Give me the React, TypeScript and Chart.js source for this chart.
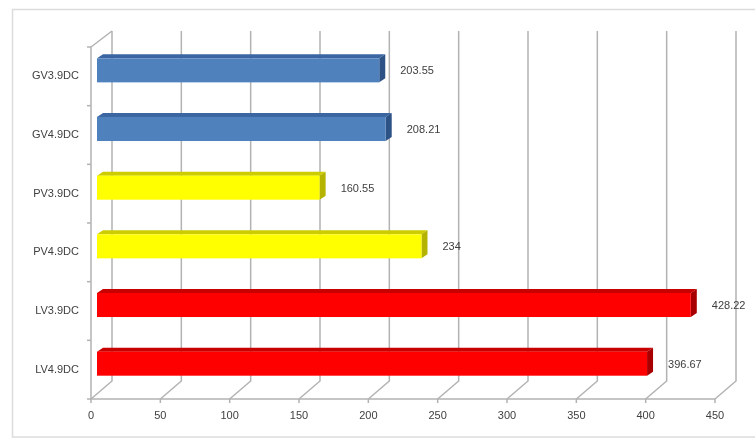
import React, { useEffect, useRef } from "react";
import { Chart, registerables } from "chart.js";

Chart.register(...registerables);

const categories = ["GV3.9DC", "GV4.9DC", "PV3.9DC", "PV4.9DC", "LV3.9DC", "LV4.9DC"];
const values = [203.55, 208.21, 160.55, 234, 428.22, 396.67];
const valueLabels = ["203.55", "208.21", "160.55", "234", "428.22", "396.67"];
const frontColors = ["#4f81bd", "#4f81bd", "#ffff00", "#ffff00", "#ff0000", "#ff0000"];
const topColors = ["#3b66a2", "#3b66a2", "#cccc00", "#cccc00", "#c80000", "#c80000"];
const sideColors = ["#2d5286", "#2d5286", "#b3b300", "#b3b300", "#a80000", "#a80000"];
const xMin = 0;
const xMax = 450;
const xStep = 50;

const FONT = "'Liberation Sans', Arial, sans-serif";

const threeD = {
  id: "threeD",
  beforeDatasetsDraw(chart: any) {
    const ctx = chart.ctx;
    const { left, right, top, bottom } = chart.chartArea;
    const xs = chart.scales.x;
    const dx = 21;
    const backTop = top - 16;
    const backBottom = bottom - 18;
    ctx.save();
    ctx.strokeStyle = "#dcdcdc";
    ctx.lineWidth = 1.5;
    ctx.strokeRect(12.5, 9.5, 780, 427.5);
    ctx.strokeStyle = "#b2b2b2";
    ctx.lineWidth = 1.5;
    for (let v = xMin; v <= xMax; v += xStep) {
      const fx = xs.getPixelForValue(v);
      ctx.beginPath();
      ctx.moveTo(fx, bottom);
      ctx.lineTo(fx + dx, backBottom);
      ctx.lineTo(fx + dx, backTop);
      ctx.stroke();
      ctx.beginPath();
      ctx.moveTo(fx, bottom);
      ctx.lineTo(fx, bottom + 4);
      ctx.stroke();
    }
    ctx.beginPath();
    ctx.moveTo(left + dx, backTop);
    ctx.lineTo(left, top);
    ctx.lineTo(left, bottom);
    ctx.lineTo(right, bottom);
    ctx.stroke();
    const n = categories.length;
    const step = (bottom - top) / n;
    for (let i = 0; i <= n; i++) {
      const y = top + i * step;
      ctx.beginPath();
      ctx.moveTo(left - 4, y);
      ctx.lineTo(left, y);
      ctx.stroke();
    }
    ctx.restore();
  },
  afterDatasetsDraw(chart: any) {
    const ctx = chart.ctx;
    const meta = chart.getDatasetMeta(0);
    const ox = 6;
    const oy = -6;
    const ddx = 6;
    const ddy = -4;
    ctx.save();
    meta.data.forEach((bar: any, i: number) => {
      const p = bar.getProps(["x", "y", "base", "height"], true);
      const x0 = p.base + ox;
      const x1 = p.x + ox;
      const yt = p.y + oy - p.height / 2;
      const yb = p.y + oy + p.height / 2;
      ctx.fillStyle = topColors[i];
      ctx.beginPath();
      ctx.moveTo(x0, yt);
      ctx.lineTo(x0 + ddx, yt + ddy);
      ctx.lineTo(x1 + ddx, yt + ddy);
      ctx.lineTo(x1, yt);
      ctx.closePath();
      ctx.fill();
      ctx.fillStyle = sideColors[i];
      ctx.beginPath();
      ctx.moveTo(x1, yt);
      ctx.lineTo(x1 + ddx, yt + ddy);
      ctx.lineTo(x1 + ddx, yb + ddy);
      ctx.lineTo(x1, yb);
      ctx.closePath();
      ctx.fill();
      ctx.fillStyle = frontColors[i];
      ctx.fillRect(x0, yt, x1 - x0, yb - yt);
      ctx.fillStyle = "#404040";
      ctx.font = `11px ${FONT}`;
      ctx.textAlign = "left";
      ctx.textBaseline = "middle";
      ctx.fillText(valueLabels[i], x1 + 21, p.y + oy + 1);
    });
    ctx.restore();
  },
};

export default function App() {
  const ref = useRef<HTMLCanvasElement | null>(null);
  useEffect(() => {
    if (!ref.current) return;
    const chart = new Chart(ref.current, {
      type: "bar",
      data: {
        labels: categories,
        datasets: [
          {
            data: values,
            backgroundColor: "rgba(0,0,0,0)",
            borderWidth: 0,
            barPercentage: 0.41,
            categoryPercentage: 1,
          },
        ],
      },
      options: {
        indexAxis: "y",
        responsive: false,
        animation: false,
        devicePixelRatio: 1,
        layout: { padding: { top: 47, right: 40, left: 0, bottom: 0 } },
        plugins: { legend: { display: false }, tooltip: { enabled: false } },
        scales: {
          x: {
            type: "linear",
            min: xMin,
            max: xMax,
            ticks: { stepSize: xStep, color: "#404040", font: { size: 11, family: FONT }, padding: 10 },
            grid: { display: false, drawTicks: false },
            border: { display: false },
            afterFit: (s: any) => {
              s.height = 40;
            },
          },
          y: {
            type: "category",
            ticks: { color: "#404040", font: { size: 11, family: FONT }, padding: 12 },
            grid: { display: false, drawTicks: false },
            border: { display: false },
            afterFit: (s: any) => {
              s.width = 91;
            },
          },
        },
      } as any,
      plugins: [threeD],
    });
    return () => chart.destroy();
  }, []);
  return (
    <div style={{ position: "fixed", left: 0, top: 0, width: 755, height: 439, background: "#fff" }}>
      <canvas ref={ref} width={755} height={439} style={{ display: "block" }} />
    </div>
  );
}
